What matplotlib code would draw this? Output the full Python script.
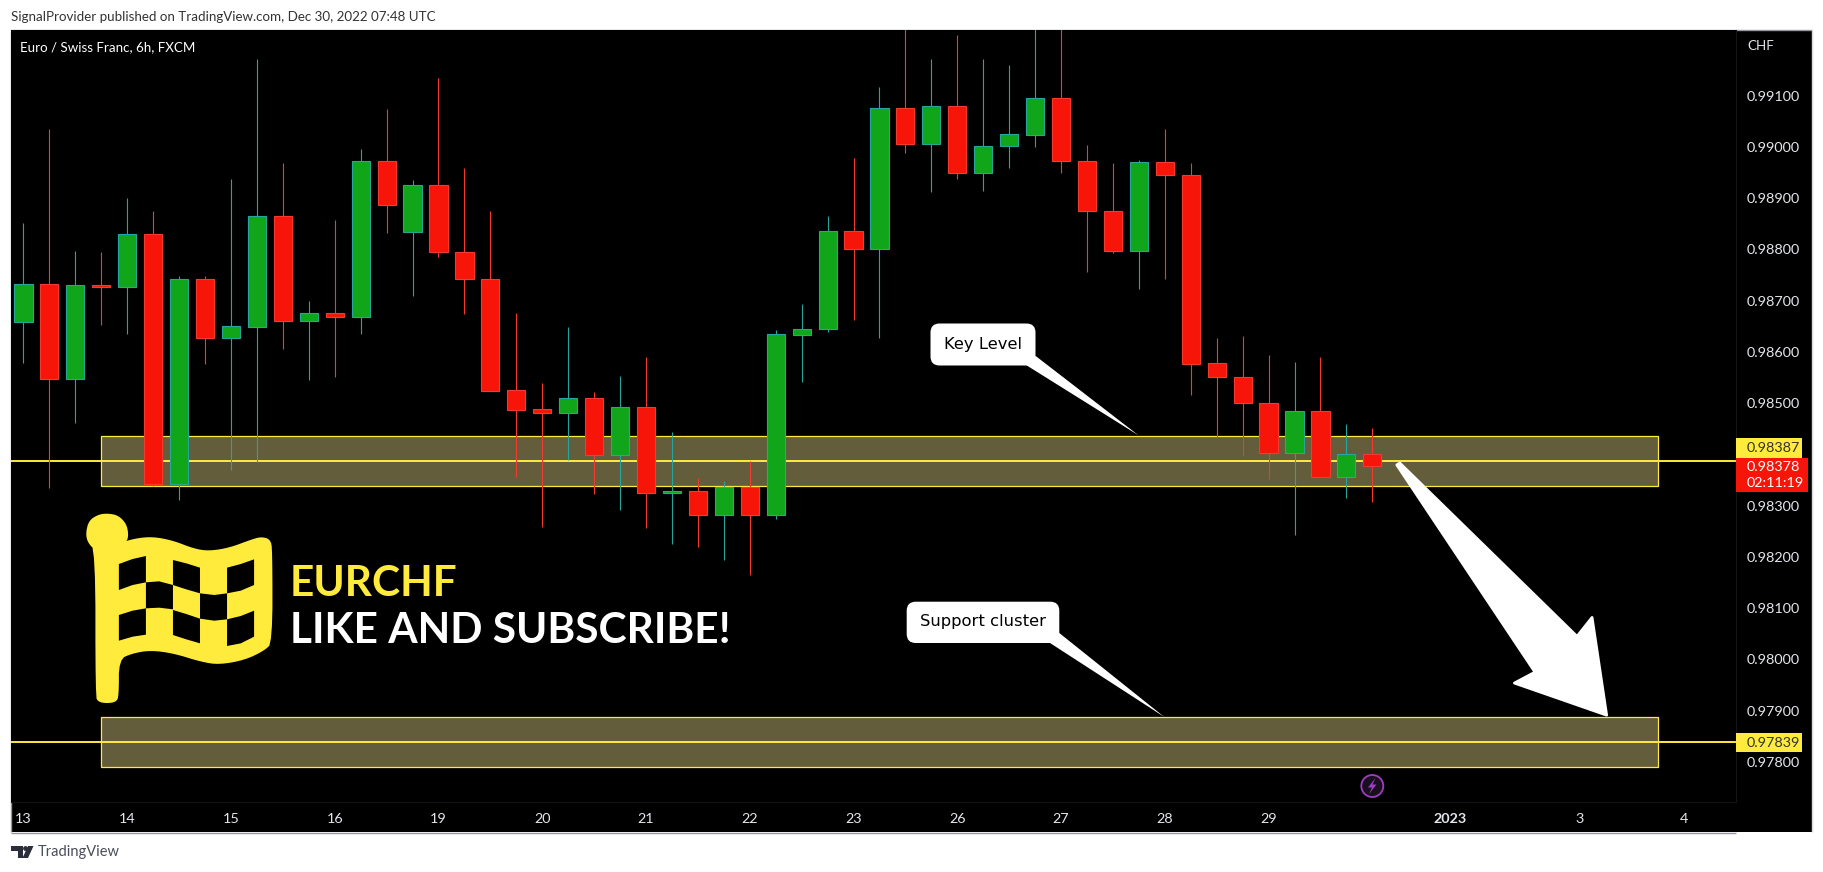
import matplotlib
matplotlib.use("Agg")
import matplotlib.pyplot as plt
from matplotlib.patches import Rectangle, Polygon, FancyBboxPatch, Circle
from matplotlib.transforms import Affine2D

W, H = 1823, 872
plt.rcParams["font.family"] = ["Lato", "DejaVu Sans"]

# EURCHF 6h candles
opens = [0.98659, 0.98732, 0.98546, 0.98730, 0.98727, 0.98829, 0.98343, 0.98742, 0.98626, 0.98649,
         0.98866, 0.98661, 0.98675, 0.98667, 0.98972, 0.98833, 0.98925, 0.98794, 0.98742, 0.98525,
         0.98488, 0.98481, 0.98509, 0.98398, 0.98492, 0.98325, 0.98328, 0.98282, 0.98337, 0.98282,
         0.98633, 0.98645, 0.98835, 0.98801, 0.99075, 0.99006, 0.99079, 0.98949, 0.99001, 0.99024,
         0.99095, 0.98973, 0.98874, 0.98796, 0.98970, 0.98946, 0.98578, 0.98551, 0.98501, 0.98402,
         0.98485, 0.98356, 0.98400]
closes = [0.98732, 0.98546, 0.98730, 0.98727, 0.98829, 0.98343, 0.98742, 0.98626, 0.98650, 0.98866,
          0.98661, 0.98675, 0.98667, 0.98972, 0.98887, 0.98925, 0.98794, 0.98742, 0.98524, 0.98487,
          0.98481, 0.98509, 0.98398, 0.98492, 0.98325, 0.98329, 0.98282, 0.98337, 0.98282, 0.98634,
          0.98645, 0.98835, 0.98801, 0.99075, 0.99006, 0.99079, 0.98949, 0.99001, 0.99025, 0.99095,
          0.98973, 0.98874, 0.98796, 0.98970, 0.98946, 0.98577, 0.98551, 0.98501, 0.98402, 0.98485,
          0.98356, 0.98400, 0.98378]
highs = [0.98851, 0.99035, 0.98797, 0.98795, 0.98900, 0.98875, 0.98748, 0.98748, 0.98937, 0.99172,
         0.98969, 0.98699, 0.98857, 0.98996, 0.99074, 0.98935, 0.99134, 0.98959, 0.98875, 0.98676,
         0.98539, 0.98649, 0.98522, 0.98553, 0.98590, 0.98443, 0.98354, 0.98348, 0.98387, 0.98642,
         0.98693, 0.98865, 0.98978, 0.99117, 0.99260, 0.99171, 0.99218, 0.99171, 0.99160, 0.99260,
         0.99260, 0.99004, 0.98968, 0.98974, 0.99035, 0.98968, 0.98627, 0.98630, 0.98593, 0.98580,
         0.98590, 0.98459, 0.98451]
lows = [0.98578, 0.98334, 0.98461, 0.98652, 0.98635, 0.98338, 0.98310, 0.98576, 0.98369, 0.98385,
        0.98606, 0.98545, 0.98551, 0.98635, 0.98832, 0.98709, 0.98785, 0.98674, 0.98524, 0.98356,
        0.98258, 0.98389, 0.98323, 0.98292, 0.98256, 0.98224, 0.98220, 0.98194, 0.98165, 0.98274,
        0.98541, 0.98639, 0.98662, 0.98626, 0.98988, 0.98912, 0.98937, 0.98914, 0.98959, 0.99000,
        0.98949, 0.98756, 0.98793, 0.98723, 0.98743, 0.98516, 0.98433, 0.98397, 0.98351, 0.98243,
        0.98356, 0.98314, 0.98307]

date_pos = [0, 4, 8, 12, 16, 20, 24, 28, 32, 36, 40, 44, 48, 55, 60, 64]
date_labels = ["13", "14", "15", "16", "19", "20", "21", "22", "23", "26", "27", "28", "29", "2023", "3", "4"]
price_ticks = [0.978, 0.979, 0.980, 0.981, 0.982, 0.983, 0.985, 0.986, 0.987, 0.988, 0.989, 0.990, 0.991]

key_level = 0.98387
support_level = 0.97839
key_zone = (0.98338, 0.98435)
support_zone = (0.97789, 0.97887)
zone_x = (2.99, 63.0)

up_body, down_body = "#11A51A", "#F7150A"
up_line, down_line = "#26A69A", "#F23A2F"
yellow = "#FFEB3B"
zone_fill = "#635D3B"
border = "#9598A1"

fig = plt.figure(figsize=(W / 100, H / 100), dpi=100, facecolor="white")

# everything decorative is placed in picture pixels (y down)
px = Affine2D().scale(1, -1).translate(0, H)

def add(artist):
    artist.set_transform(px)
    artist.set_zorder(artist.get_zorder() + 10)
    fig.add_artist(artist)
    return artist

def label(x, y, s, **kw):
    kw.setdefault("va", "center")
    return fig.text(x, y, s, transform=px, zorder=20, **kw)

def smooth(pts, rounds=2):
    # corner cutting so the flag outline is not visibly polygonal
    for _ in range(rounds):
        out = []
        for (x0, y0), (x1, y1) in zip(pts, pts[1:] + pts[:1]):
            out.append((0.75 * x0 + 0.25 * x1, 0.75 * y0 + 0.25 * y1))
            out.append((0.25 * x0 + 0.75 * x1, 0.25 * y0 + 0.75 * y1))
        pts = out
    return pts

fig.add_artist(Rectangle((11, 30), 1800.5, 802, fc="black", ec="none", transform=px, zorder=-5))
fig.add_artist(Rectangle((10.5, 29.5), 1801, 0.1, fc="none", ec=border, lw=1, transform=px, zorder=-4))
fig.add_artist(Rectangle((10.5, 30), 0.1, 802, fc="none", ec=border, lw=1, transform=px, zorder=-4))
fig.add_artist(Rectangle((1811.5, 30), 0.1, 802, fc="none", ec="#D8D9DD", lw=1, transform=px, zorder=-4))
fig.add_artist(Rectangle((10.5, 832.5), 1725.5, 0.1, fc="none", ec=border, lw=1, transform=px, zorder=-4))

ax = fig.add_axes([11 / W, (H - 802) / H, (1736 - 11) / W, (802 - 30) / H])
ax.set_facecolor("black")
ax.set_xlim(-0.48, 66.02)
ax.set_ylim(0.977215, 0.99228)
for side, spine in ax.spines.items():
    spine.set_visible(side in ("right", "bottom"))
    spine.set_color("#141414")

ax.yaxis.tick_right()
ax.set_yticks(price_ticks)
ax.set_yticklabels([f"{p:.5f}" for p in price_ticks], fontsize=10.4, color="#E4E6EB")
ax.set_xticks(date_pos)
ax.set_xticklabels(date_labels, fontsize=10.4, color="#E4E6EB")
ax.get_xticklabels()[13].set_fontweight("bold")
ax.tick_params(axis="both", length=0)
ax.tick_params(axis="x", pad=8)
ax.tick_params(axis="y", pad=7.5)

# zones and levels sit under the candles
for lo, hi in (key_zone, support_zone):
    ax.add_patch(Rectangle((zone_x[0], lo), zone_x[1] - zone_x[0], hi - lo, fc=zone_fill,
                           ec=yellow, lw=0.9, zorder=1))
ax.axhline(key_level, color=yellow, lw=1.4, zorder=2)
ax.axhline(support_level, color=yellow, lw=1.4, zorder=2)

for i, (o, h, l, c) in enumerate(zip(opens, highs, lows, closes)):
    up = c >= o
    ax.vlines(i, l, h, color=up_line if up else down_line, lw=0.8, zorder=3)
    ax.bar(i, abs(c - o), bottom=min(o, c), width=0.7, color=up_body if up else down_body,
           edgecolor=up_line if up else down_line, linewidth=0.8, zorder=4)

# top and bottom captions
label(11, 17, "SignalProvider published on TradingView.com, Dec 30, 2022 07:48 UTC", fontsize=9.6, color="#333333")
label(20, 47, "Euro / Swiss Franc, 6h, FXCM", fontsize=9.6, color="white")
label(1747, 46, "CHF", fontsize=9.6, color="#E4E6EB")
label(38, 852, "TradingView", fontsize=10.5, color="#4A4E59")
add(Polygon([(11, 846), (23, 846), (23, 858), (18, 858), (18, 851), (11, 851)], fc="#2A2E39", ec="none"))
add(Circle((25.5, 848.5), 2.4, fc="#2A2E39", ec="none"))
add(Polygon([(28, 846), (33.5, 846), (28, 858), (22.5, 858)], fc="#2A2E39", ec="none"))

# price tags
add(Rectangle((1736, 438), 66, 19.6, fc=yellow, ec="none"))
label(1747, 448, "0.98387", fontsize=10.4, color="#333333")
add(Rectangle((1736, 457.6), 72, 34, fc=down_body, ec="none"))
label(1747, 467, "0.98378", fontsize=10.4, color="white")
label(1747, 483, "02:11:19", fontsize=10.4, color="white")
add(Rectangle((1736, 733.4), 66, 18.4, fc=yellow, ec="none"))
label(1747, 742.6, "0.97839", fontsize=10.4, color="#333333")

# flag logo, points
def flag_xy(pts):
    return [(x / 1.96, 500 + y / 3) for x, y in pts]

flag_body = [(233, 130), (265, 115), (300, 110), (340, 122), (380, 146), (410, 153), (450, 143), (490, 120),
             (512, 110), (530, 118), (534, 150), (534, 428), (518, 452), (480, 480), (430, 494), (395, 486),
             (340, 460), (295, 451), (260, 460), (233, 478), (233, 590), (227, 606), (210, 610), (193, 606),
             (187, 590), (187, 152), (172, 128), (168, 100), (174, 62), (192, 44), (210, 40), (232, 46),
             (248, 72), (252, 105), (248, 127)]
add(Polygon(flag_xy(smooth(flag_body)), closed=True, fc=yellow, ec="none"))
flag_cells = [
    [(233, 192), (260, 177), (286, 168), (286, 247), (260, 255), (233, 270)],
    [(339, 180), (365, 190), (392, 203), (392, 280), (365, 268), (339, 255)],
    [(445, 203), (472, 192), (498, 178), (498, 255), (472, 272), (445, 280)],
    [(286, 247), (312, 244), (339, 255), (339, 328), (312, 323), (286, 325)],
    [(392, 280), (420, 285), (445, 280), (445, 358), (420, 362), (392, 356)],
    [(233, 345), (260, 332), (286, 325), (286, 404), (260, 410), (233, 422)],
    [(339, 330), (365, 342), (392, 356), (392, 430), (365, 418), (339, 405)],
    [(445, 358), (472, 348), (498, 332), (498, 410), (472, 430), (445, 438)],
]
for cell in flag_cells:
    add(Polygon(flag_xy(cell), closed=True, fc="black", ec="none"))
label(290, 584, "EURCHF", fontsize=30.5, fontweight="bold", color=yellow)
label(290, 631, "LIKE AND SUBSCRIBE!", fontsize=30.5, fontweight="bold", color="white")

# callouts
add(FancyBboxPatch((934, 327), 98, 35, boxstyle="round,pad=3.5,rounding_size=9", fc="white", ec="none"))
add(Polygon([(1026, 365), (1138.6, 435.4), (1035.7, 356)], fc="white", ec="none"))
label(983, 344, "Key Level", fontsize=11.8, color="black", ha="center", family="DejaVu Sans")

add(FancyBboxPatch((910.2, 605.2), 145.6, 34.3, boxstyle="round,pad=3.5,rounding_size=9", fc="white", ec="none"))
add(Polygon([(1050, 643), (1164.3, 717), (1059.3, 633)], fc="white", ec="none"))
label(982.7, 621.3, "Support cluster", fontsize=11.8, color="black", ha="center", family="DejaVu Sans")

# big arrow
def arrow_xy(pts):
    return [(1150 + x / 2.33, 300 + y / 2.741) for x, y in pts]

add(Polygon(arrow_xy([(575, 452), (897, 1020), (849, 1050), (1064, 1138), (1030, 870), (995, 922), (582, 447)]),
            closed=True, fc="white", ec="white", lw=2, joinstyle="round"))

# lightning marker
add(Circle((1372.3, 786), 11, fc="#1A0F20", ec="#9C3FBF", lw=1.3))
add(Polygon([(1375.5, 778), (1368, 787.5), (1372, 787.5), (1369, 794), (1376.5, 784.5), (1372.5, 784.5)], fc="#9C3FBF", ec="none"))

fig.savefig("out.png", dpi=100, facecolor="white")
